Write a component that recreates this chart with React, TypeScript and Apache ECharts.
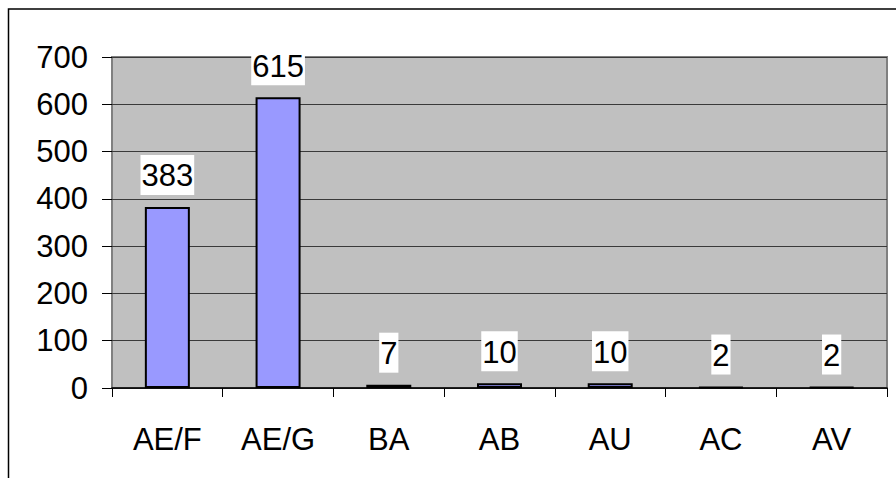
import React, { useEffect, useRef } from "react";
import * as echarts from "echarts";

const categories = ["AE/F", "AE/G", "BA", "AB", "AU", "AC", "AV"];
const values = [383, 615, 7, 10, 10, 2, 2];
const yTicks = { min: 0, max: 700, interval: 100 };

export default function App() {
  const ref = useRef<HTMLDivElement>(null);
  useEffect(() => {
    if (!ref.current) return;
    const chart = echarts.init(ref.current, undefined, { renderer: "svg" });
    const font = "Liberation Sans, Arial, sans-serif";
    chart.setOption({
      animation: false,
      graphic: [
        {
          type: "rect",
          shape: { x: 8.5, y: 9, width: 1000, height: 1000 },
          style: { fill: "none", stroke: "#000", lineWidth: 1.5 },
          silent: true,
        },
      ],
      grid: {
        left: 112,
        top: 57,
        width: 775,
        height: 331,
        show: true,
        backgroundColor: "#C0C0C0",
        borderColor: "#808080",
        borderWidth: 2,
      },
      xAxis: {
        type: "category",
        data: categories,
        boundaryGap: true,
        axisLine: { show: true, lineStyle: { color: "#000", width: 1.5 } },
        axisTick: { show: true, length: 9, alignWithLabel: false, lineStyle: { color: "#000" } },
        axisLabel: { color: "#000", fontSize: 31, fontFamily: font, margin: 36 },
        splitLine: { show: false },
      },
      yAxis: {
        type: "value",
        min: yTicks.min,
        max: yTicks.max,
        interval: yTicks.interval,
        axisLine: { show: false },
        axisTick: { show: true, length: 10, lineStyle: { color: "#000" } },
        axisLabel: { color: "#000", fontSize: 31, fontFamily: font, margin: 24 },
        splitLine: { show: true, lineStyle: { color: "#3a3a3a", width: 1 } },
      },
      series: [
        {
          type: "bar",
          data: values,
          barWidth: 45,
          itemStyle: { color: "#9999FF", borderColor: "#000", borderWidth: 2 },
          label: {
            show: true,
            position: "top",
            distance: 12,
            color: "#000",
            fontSize: 31,
            fontFamily: font,
            backgroundColor: "#fff",
            padding: [3, 1, 1, 1],
            lineHeight: 36,
          },
        },
      ],
    });
    return () => chart.dispose();
  }, []);
  return (
    <div
      ref={ref}
      style={{ position: "fixed", left: 0, top: 0, width: 896, height: 478, background: "#fff" }}
    />
  );
}
